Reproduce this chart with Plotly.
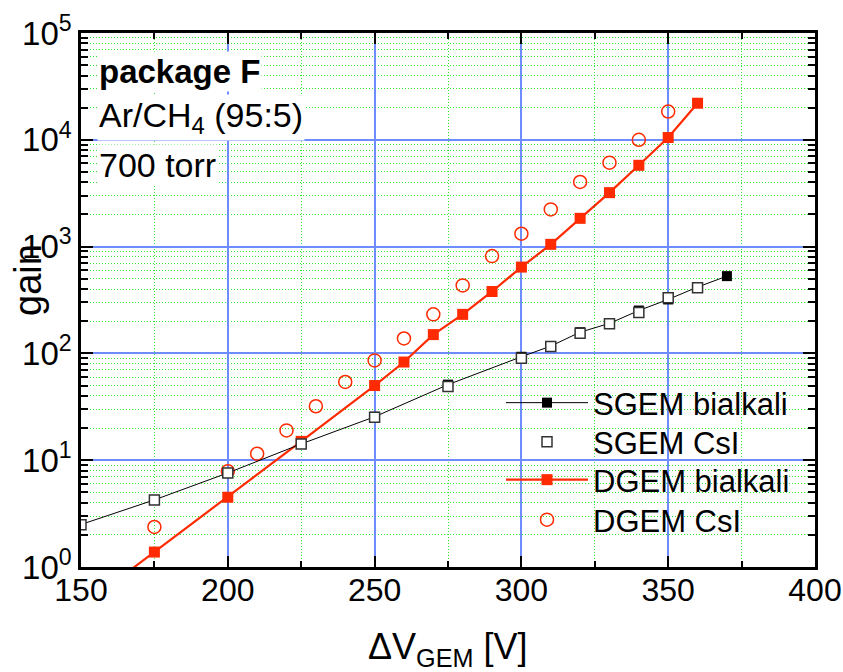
import plotly.graph_objects as go

# ---- data ----
sgem_bi_x = [150, 175, 200, 225, 250, 275, 300, 310, 320, 330, 340, 350, 360, 370]
sgem_bi_y = [2.5, 4.25, 7.6, 14.2, 25.5, 51, 93, 117, 158, 191, 252, 320, 418, 529]

sgem_csi_x = [150, 175, 200, 225, 250, 275, 300, 310, 320, 330, 340, 350, 360]
sgem_csi_y = [2.49, 4.25, 7.6, 14.2, 25.2, 49, 90, 116, 154, 190, 242, 332, 412]

dgem_bi_x = [150, 175, 200, 225, 250, 260, 270, 280, 290, 300, 310, 320, 330, 340, 350, 360]
dgem_bi_y = [0.42, 1.38, 4.5, 15, 50, 83, 150, 232, 380, 643, 1050, 1840, 3200, 5770, 10500, 22000]

dgem_csi_x = [175, 200, 210, 220, 230, 240, 250, 260, 270, 280, 290, 300, 310, 320, 330, 340, 350]
dgem_csi_y = [2.37, 7.9, 11.5, 19, 32, 54, 86, 138, 232, 433, 815, 1320, 2230, 4030, 6110, 10000, 18400]

y_tickvals = [1, 10, 100, 1000, 10000, 100000]
y_ticktext = ["10<sup>0</sup>", "10<sup>1</sup>", "10<sup>2</sup>", "10<sup>3</sup>",
              "10<sup>4</sup>", "10<sup>5</sup>"]
x_tickvals = [150, 200, 250, 300, 350, 400]

RED = "#ff2a00"
BLUE = "#6f8cff"
GREEN = "#33e633"
FONT = "Liberation Sans, Arial, sans-serif"

fig = go.Figure()

fig.add_trace(go.Scatter(
    x=dgem_bi_x, y=dgem_bi_y, mode="lines+markers", name="DGEM bialkali",
    line=dict(color=RED, width=2.2),
    marker=dict(symbol="square", size=11, color=RED, line=dict(width=0)),
    legend="legend3"))
fig.add_trace(go.Scatter(
    x=dgem_csi_x, y=dgem_csi_y, mode="markers", name="DGEM CsI",
    marker=dict(symbol="circle-open", size=13, color=RED, line=dict(width=1.5)),
    legend="legend4"))
fig.add_trace(go.Scatter(
    x=sgem_bi_x, y=sgem_bi_y, mode="lines+markers", name="SGEM bialkali",
    line=dict(color="black", width=1),
    marker=dict(symbol="square", size=10, color="black", line=dict(width=0)),
    legend="legend"))
fig.add_trace(go.Scatter(
    x=sgem_csi_x, y=sgem_csi_y, mode="markers", name="SGEM CsI",
    marker=dict(symbol="square", size=10, color="white", line=dict(width=1.5, color="#333333")),
    legend="legend2"))

def px_x(p):
    return (p - 81) / 734

def px_y(p):
    return (567 - p) / 534

def leg(py):
    return dict(x=px_x(501), y=px_y(py), xanchor="left", yanchor="middle",
                bgcolor="rgba(255,255,255,0)", borderwidth=0,
                font=dict(size=31, family=FONT), itemwidth=82)

fig.update_layout(
    template="none",
    width=843, height=672,
    margin=dict(l=81, r=28, t=33, b=105),
    paper_bgcolor="white", plot_bgcolor="white",
    font=dict(family=FONT, color="black"),
    showlegend=True,
    legend=leg(403), legend2=leg(442), legend3=leg(480), legend4=leg(520),
)

# white box behind the legend texts
fig.add_shape(type="rect", xref="paper", yref="paper",
              x0=px_x(586), x1=px_x(795), y0=px_y(538), y1=px_y(384),
              fillcolor="white", line=dict(width=0), layer="between")

fig.update_xaxes(
    range=[150, 400], showline=True, linecolor="black", linewidth=2.5, mirror="allticks",
    tickmode="array", tickvals=x_tickvals, ticks="inside", ticklen=11, tickwidth=2,
    tickcolor="black", tickfont=dict(size=32, family=FONT), ticklabelstandoff=-7,
    showgrid=True, gridcolor=BLUE, gridwidth=1.5, zeroline=False,
    minor=dict(dtick=25, tick0=150, ticks="inside", ticklen=6, tickwidth=2, tickcolor="black",
               showgrid=True, gridcolor=GREEN, gridwidth=1, griddash="1px,2px"),
    automargin=False,
)
fig.update_yaxes(
    type="log", range=[0, 5], showline=True, linecolor="black", linewidth=2.5, mirror="allticks",
    tickmode="array", tickvals=y_tickvals, ticktext=y_ticktext, ticks="inside", ticklen=12,
    tickwidth=2, tickcolor="black", tickfont=dict(size=33, family=FONT),
    showgrid=True, gridcolor=BLUE, gridwidth=1.5, zeroline=False,
    minor=dict(dtick="D1", ticks="inside", ticklen=7, tickwidth=2, tickcolor="black",
               showgrid=True, gridcolor=GREEN, gridwidth=1, griddash="1px,2px"),
    automargin=False,
)

annots = [
    dict(text="<b>package F</b>", x=px_x(97), y=px_y(72), size=33),
    dict(text="Ar/CH<sub>4</sub> (95:5)", x=px_x(97), y=px_y(118), size=34),
    dict(text="700 torr", x=px_x(97), y=px_y(165), size=34),
]
for a in annots:
    fig.add_annotation(text=a["text"], x=a["x"], y=a["y"], xref="paper", yref="paper",
                       xanchor="left", yanchor="middle", showarrow=False,
                       bgcolor="white", borderpad=1,
                       font=dict(size=a["size"], family=FONT, color="black"))

fig.add_annotation(text="gain", x=px_x(28), y=px_y(280), xref="paper", yref="paper",
                   textangle=-90, showarrow=False, xanchor="center", yanchor="middle",
                   font=dict(size=38, family=FONT, color="black"))
fig.add_annotation(text="ΔV<sub>GEM</sub> [V]", x=px_x(447), y=px_y(649), xref="paper", yref="paper",
                   showarrow=False, xanchor="center", yanchor="middle",
                   font=dict(size=36, family=FONT, color="black"))

fig.write_html("out.html")
